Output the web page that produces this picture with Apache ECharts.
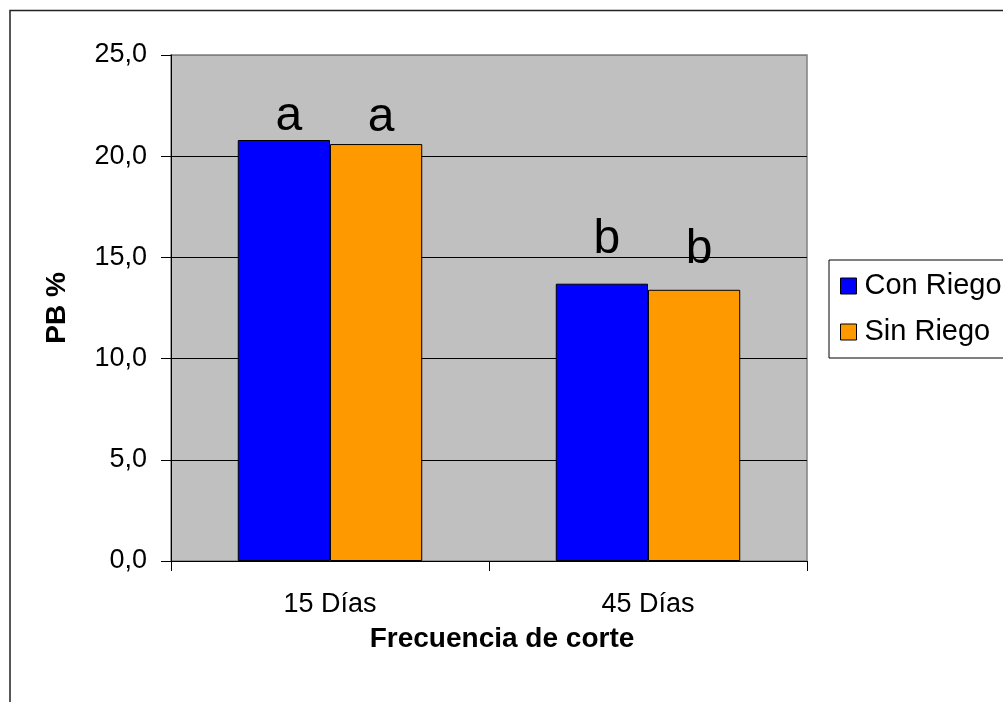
<!DOCTYPE html>
<html>
<head>
<meta charset="utf-8">
<script src="https://cdn.jsdelivr.net/npm/echarts@6/dist/echarts.min.js"></script>
<style>
html,body{margin:0;padding:0;background:#fff;}
#chart{width:1003px;height:702px;}
</style>
</head>
<body>
<div id="chart"></div>
<script>
const categories = ['15 Días', '45 Días'];
const seriesNames = ['Con Riego', 'Sin Riego'];
const conRiego = [20.8, 13.7];
const sinRiego = [20.6, 13.4];
const lettersCon = ['a', 'b'];
const lettersSin = ['a', 'b'];
const yTicks = [0, 5, 10, 15, 20, 25];

const FONT = '"Liberation Sans", Arial, sans-serif';
// label spacing above bars (style only)
const gapCon = [-1, 20];
const gapSin = [2, 16];

function buildData(values, letters, gaps) {
  return values.map((v, i) => ({
    value: v,
    label: { distance: gaps[i], formatter: letters[i] }
  }));
}

const chart = echarts.init(document.getElementById('chart'), null, {renderer: 'canvas'});
const option = {
  backgroundColor: '#ffffff',
  animation: false,
  graphic: [{
    type: 'rect',
    shape: {x: 10, y: 10.5, width: 1100, height: 800},
    style: {fill: 'none', stroke: '#222', lineWidth: 1.5},
    silent: true, z: -1
  }],
  grid: {
    left: 171, top: 55, right: 196, bottom: 141,
    show: true, backgroundColor: '#c0c0c0', borderColor: '#808080', borderWidth: 1.5
  },
  legend: {
    data: seriesNames,
    orient: 'vertical',
    left: 829, top: 260,
    padding: [11, 60, 11, 11],
    itemGap: 16,
    itemWidth: 16, itemHeight: 16,
    borderColor: '#000', borderWidth: 1,
    backgroundColor: '#fff',
    icon: 'rect',
    itemStyle: {borderColor: '#000', borderWidth: 1},
    textStyle: {fontFamily: FONT, fontSize: 29, color: '#000', lineHeight: 30, padding: [0,0,0,3]}
  },
  xAxis: {
    type: 'category',
    data: categories,
    name: 'Frecuencia de corte',
    nameLocation: 'middle',
    nameGap: 64,
    nameTextStyle: {fontFamily: FONT, fontSize: 28, fontWeight: 'bold', color: '#000', padding: [0, 0, 0, 26]},
    axisLine: {show: true, lineStyle: {color: '#000', width: 1}},
    axisTick: {show: true, length: 10, inside: false, lineStyle: {color: '#000'}},
    axisLabel: {fontFamily: FONT, fontSize: 27, color: '#000', margin: 30}
  },
  yAxis: {
    type: 'value',
    min: 0, max: 25, interval: 5,
    name: 'PB %',
    nameLocation: 'middle',
    nameRotate: 90,
    nameGap: 100,
    nameTextStyle: {fontFamily: FONT, fontSize: 28, fontWeight: 'bold', color: '#000'},
    axisLine: {show: true, lineStyle: {color: '#000', width: 1}},
    axisTick: {show: true, length: 10, lineStyle: {color: '#000'}},
    axisLabel: {
      fontFamily: FONT, fontSize: 27, color: '#000', margin: 24,
      formatter: v => yTicks.includes(v) ? v.toFixed(1).replace('.', ',') : ''
    },
    splitLine: {show: true, lineStyle: {color: ['#000', '#000', '#000', '#000', '#000', '#808080'], width: 1}}
  },
  series: [
    {
      name: seriesNames[0], type: 'bar',
      data: buildData(conRiego, lettersCon, gapCon),
      barGap: '0%', barCategoryGap: '42%',
      itemStyle: {color: '#0000ff', borderColor: '#000', borderWidth: 1},
      label: {show: true, position: 'top', offset: [5, 0], fontFamily: FONT, fontSize: 48, color: '#000'}
    },
    {
      name: seriesNames[1], type: 'bar',
      data: buildData(sinRiego, lettersSin, gapSin),
      barGap: '0%', barCategoryGap: '42%',
      itemStyle: {color: '#ff9900', borderColor: '#000', borderWidth: 1},
      label: {show: true, position: 'top', offset: [5, 0], fontFamily: FONT, fontSize: 48, color: '#000'}
    }
  ]
};
chart.setOption(option);
</script>
</body>
</html>
